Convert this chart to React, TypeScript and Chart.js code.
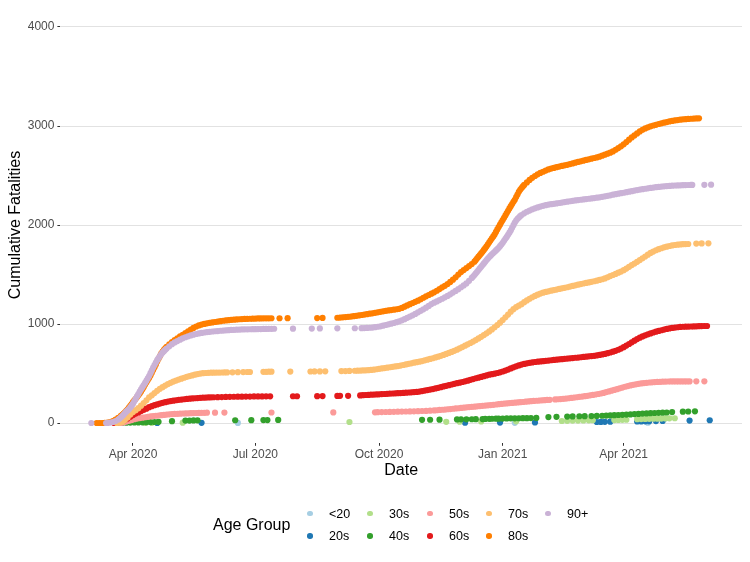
import React, { useEffect, useRef } from "react";
import { Chart, registerables } from "chart.js";

Chart.register(...registerables);

type Pt = [number, number];

// x values are days since 2020-03-01
const dateTicks = [31, 122, 214, 306, 396];
const dateLabels = ["Apr 2020", "Jul 2020", "Oct 2020", "Jan 2021", "Apr 2021"];
const valueTicks = [0, 1000, 2000, 3000, 4000];

const ageGroups = ["<20", "20s", "30s", "40s", "50s", "60s", "70s", "80s", "90+"];
const ageColors = ["#A6CEE3", "#1F78B4", "#B2DF8A", "#33A02C", "#FB9A99", "#E31A1C", "#FDBF6F", "#FF7F00", "#CAB2D6"];

const under20: Pt[] = [[109, 1], [315, 2], [414, 3]];

const age20s: Pt[] = [[49, 1], [82, 2], [278, 3], [304, 4], [330, 5], [376, 10], [379, 11], [382, 12], [386, 13], [406, 15], [409, 16], [412, 17], [415, 18], [420, 19], [425, 20], [445, 24], [460, 28]];

const age30s: Pt[] = [[40, 1], [45, 2], [68, 3], [192, 10], [264, 12], [274, 13], [290, 15], [316, 17], [350, 20], [354, 22], [358, 24], [362, 25], [366, 26], [370, 27], [373, 28], [389, 30], [392, 31], [395, 32], [398, 33], [406, 38], [409, 40], [412, 41], [415, 42], [418, 43], [421, 44], [424, 45], [427, 46], [430, 47], [434, 48]];

const age40s: Pt[] = [[20, 1], [23, 2], [26, 3], [29, 4], [32, 5], [35, 6], [38, 7], [41, 8], [44, 9], [47, 10], [50, 12], [60, 18], [70, 24], [73, 25], [76, 26], [79, 27], [107, 28], [119, 29], [128, 30], [131, 30], [139, 31], [246, 32], [252, 33], [259, 34], [272, 36], [275, 37], [279, 37], [283, 38], [286, 39], [291, 40], [293, 41], [296, 42], [298, 43], [301, 44], [303, 44], [306, 45], [309, 46], [312, 47], [315, 47], [318, 48], [321, 49], [324, 49], [327, 50], [331, 51], [340, 60], [346, 62], [354, 65], [358, 66], [363, 68], [367, 69], [372, 70], [376, 71], [380, 73], [383, 75], [386, 77], [389, 79], [392, 81], [395, 83], [398, 85], [401, 87], [404, 90], [407, 92], [410, 95], [413, 97], [416, 99], [419, 101], [422, 103], [425, 104], [428, 106], [432, 110], [440, 114], [444, 116], [449, 118]];

const age50s: Pt[] = [[22, 0], [24, 6], [26, 14], [28, 22], [30, 30], [32, 38], [34, 45], [36, 50], [38, 54], [40, 58], [42, 62], [44, 66], [46, 70], [48, 73], [50, 76], [52, 79], [54, 82], [56, 85], [58, 88], [60, 90], [62, 92], [64, 93], [66, 94], [68, 96], [70, 97], [72, 98], [74, 99], [76, 100], [78, 101], [80, 102], [82, 103], [84, 103], [86, 104], [92, 104], [99, 105], [134, 106], [180, 107], [211, 108], [213, 109], [216, 110], [219, 111], [222, 112], [225, 113], [228, 114], [231, 115], [234, 116], [237, 117], [240, 118], [243, 119], [246, 121], [249, 122], [252, 124], [255, 127], [257, 129], [259, 132], [261, 134], [263, 136], [265, 139], [267, 141], [269, 144], [271, 147], [273, 149], [275, 152], [277, 155], [279, 158], [281, 161], [283, 163], [285, 165], [287, 168], [289, 171], [291, 173], [293, 176], [295, 179], [297, 181], [299, 184], [301, 187], [303, 190], [305, 193], [307, 196], [309, 198], [311, 201], [313, 203], [315, 205], [317, 208], [319, 210], [321, 212], [323, 215], [325, 218], [327, 220], [329, 223], [331, 225], [333, 227], [335, 229], [337, 231], [339, 233], [341, 234], [345, 238], [347, 240], [349, 242], [351, 244], [353, 247], [355, 250], [357, 253], [359, 257], [361, 260], [363, 264], [365, 267], [367, 271], [369, 275], [371, 280], [373, 284], [375, 288], [377, 293], [379, 298], [381, 304], [383, 312], [385, 319], [387, 327], [389, 334], [391, 342], [393, 350], [395, 358], [397, 366], [399, 373], [401, 380], [403, 386], [405, 391], [407, 396], [409, 400], [411, 403], [413, 406], [415, 409], [417, 411], [419, 413], [421, 415], [423, 416], [425, 417], [427, 418], [429, 419], [431, 420], [433, 420], [435, 420], [437, 420], [439, 420], [441, 420], [443, 420], [445, 420], [450, 421], [456, 421]];

const age60s: Pt[] = [[17, 0], [19, 4], [21, 10], [23, 18], [25, 30], [27, 45], [29, 64], [31, 80], [33, 95], [35, 107], [37, 120], [39, 133], [41, 145], [43, 160], [45, 170], [47, 180], [49, 188], [51, 196], [53, 204], [55, 210], [57, 216], [59, 221], [61, 226], [63, 230], [65, 234], [67, 237], [69, 240], [71, 243], [73, 246], [75, 248], [77, 250], [79, 252], [81, 254], [83, 256], [85, 257], [87, 258], [89, 259], [91, 260], [94, 261], [97, 262], [100, 263], [103, 264], [106, 265], [109, 266], [112, 266], [115, 267], [118, 267], [121, 268], [124, 268], [127, 268], [130, 269], [133, 269], [150, 270], [153, 270], [168, 271], [172, 272], [183, 273], [185, 274], [191, 275], [200, 279], [202, 281], [204, 283], [206, 284], [208, 286], [210, 287], [212, 289], [214, 290], [216, 292], [218, 293], [220, 295], [222, 297], [224, 298], [226, 300], [228, 301], [230, 302], [232, 304], [234, 306], [236, 308], [238, 310], [240, 312], [242, 314], [244, 317], [246, 322], [248, 328], [250, 333], [252, 338], [254, 343], [256, 349], [258, 355], [260, 362], [262, 369], [264, 376], [266, 382], [268, 389], [270, 396], [272, 402], [274, 407], [276, 414], [278, 421], [280, 428], [282, 436], [284, 444], [286, 452], [288, 458], [290, 465], [292, 473], [294, 481], [296, 488], [298, 493], [300, 498], [302, 505], [304, 512], [306, 520], [308, 530], [310, 540], [312, 551], [314, 562], [316, 572], [318, 582], [320, 590], [322, 597], [324, 603], [326, 608], [328, 612], [330, 616], [332, 619], [334, 622], [336, 625], [338, 628], [340, 631], [342, 634], [344, 637], [346, 640], [348, 643], [350, 645], [352, 648], [354, 651], [356, 653], [358, 656], [360, 659], [362, 661], [364, 664], [366, 667], [368, 670], [370, 673], [372, 676], [374, 679], [376, 683], [378, 688], [380, 693], [382, 698], [384, 705], [386, 712], [388, 720], [390, 729], [392, 740], [394, 752], [396, 766], [398, 782], [400, 798], [402, 815], [404, 832], [406, 848], [408, 862], [410, 875], [412, 886], [414, 896], [416, 905], [418, 914], [420, 922], [422, 930], [424, 937], [426, 944], [428, 950], [430, 955], [432, 960], [434, 964], [436, 967], [438, 970], [440, 972], [442, 973], [444, 974], [446, 975], [448, 976], [450, 977], [452, 978], [454, 979], [456, 980], [458, 980]];

const age70s: Pt[] = [[19, 0], [21, 3], [23, 10], [25, 30], [27, 55], [29, 85], [31, 110], [33, 130], [35, 150], [37, 175], [39, 202], [41, 230], [43, 260], [45, 280], [47, 302], [49, 325], [51, 345], [53, 362], [55, 378], [57, 393], [59, 406], [61, 418], [63, 429], [65, 439], [67, 448], [69, 457], [71, 466], [73, 474], [75, 481], [77, 488], [79, 494], [81, 499], [83, 503], [85, 505], [87, 507], [89, 508], [91, 508], [93, 509], [95, 509], [97, 510], [99, 511], [101, 511], [105, 512], [109, 513], [113, 514], [116, 515], [118, 515], [128, 517], [130, 517], [132, 518], [134, 518], [148, 519], [163, 520], [166, 521], [170, 521], [174, 522], [186, 524], [189, 525], [192, 526], [196, 528], [198, 529], [200, 530], [202, 531], [204, 532], [206, 534], [208, 536], [210, 539], [212, 543], [214, 547], [216, 551], [218, 555], [220, 559], [222, 563], [224, 567], [226, 571], [228, 575], [230, 580], [232, 586], [234, 592], [236, 598], [238, 603], [240, 609], [242, 614], [244, 619], [246, 626], [248, 633], [250, 640], [252, 647], [254, 654], [256, 662], [258, 670], [260, 679], [262, 688], [264, 698], [266, 708], [268, 718], [270, 729], [272, 741], [274, 754], [276, 767], [278, 781], [280, 795], [282, 808], [284, 822], [286, 838], [288, 854], [290, 870], [292, 888], [294, 906], [296, 925], [298, 945], [300, 967], [302, 990], [304, 1013], [306, 1040], [308, 1068], [310, 1095], [312, 1125], [314, 1150], [316, 1170], [318, 1185], [320, 1200], [322, 1220], [324, 1238], [326, 1255], [328, 1270], [330, 1284], [332, 1296], [334, 1307], [336, 1316], [338, 1324], [340, 1330], [342, 1337], [344, 1343], [346, 1348], [348, 1354], [350, 1360], [352, 1365], [354, 1371], [356, 1378], [358, 1385], [360, 1391], [362, 1397], [364, 1403], [366, 1409], [368, 1415], [370, 1420], [372, 1426], [374, 1432], [376, 1438], [378, 1445], [380, 1452], [382, 1460], [384, 1472], [386, 1484], [388, 1495], [390, 1506], [392, 1518], [394, 1530], [396, 1544], [398, 1560], [400, 1578], [402, 1595], [404, 1611], [406, 1628], [408, 1646], [410, 1664], [412, 1682], [414, 1700], [416, 1718], [418, 1732], [420, 1745], [422, 1756], [424, 1765], [426, 1774], [428, 1781], [430, 1788], [432, 1794], [434, 1798], [436, 1801], [438, 1804], [440, 1806], [442, 1807], [444, 1808], [450, 1812], [454, 1814], [459, 1815]];

const age80s: Pt[] = [[4, 0], [6, 0], [8, 0], [10, 1], [12, 4], [14, 10], [16, 20], [18, 35], [20, 52], [22, 72], [23, 82], [24, 94], [25, 108], [26, 122], [27, 138], [28, 155], [29, 172], [30, 190], [31, 210], [32, 228], [33, 245], [34, 262], [35, 280], [36, 298], [37, 318], [38, 340], [39, 364], [40, 390], [41, 412], [42, 434], [43, 455], [44, 480], [45, 508], [46, 535], [47, 562], [48, 590], [49, 620], [50, 648], [51, 675], [52, 700], [53, 720], [54, 738], [55, 755], [56, 770], [58, 795], [60, 818], [62, 838], [64, 856], [66, 874], [68, 891], [70, 908], [72, 926], [74, 943], [76, 960], [78, 975], [80, 986], [82, 994], [84, 1001], [86, 1007], [88, 1012], [90, 1016], [92, 1020], [94, 1025], [96, 1029], [98, 1033], [100, 1036], [102, 1039], [104, 1042], [106, 1044], [108, 1046], [110, 1048], [112, 1050], [114, 1051], [116, 1052], [118, 1053], [120, 1054], [122, 1055], [124, 1056], [126, 1056], [128, 1057], [130, 1057], [132, 1057], [134, 1058], [140, 1058], [146, 1059], [168, 1060], [172, 1061], [183, 1063], [185, 1065], [187, 1067], [189, 1070], [191, 1072], [193, 1075], [195, 1079], [197, 1083], [199, 1087], [201, 1091], [203, 1095], [205, 1099], [207, 1104], [209, 1108], [211, 1113], [213, 1118], [215, 1123], [217, 1128], [219, 1133], [221, 1137], [223, 1141], [225, 1145], [227, 1149], [229, 1153], [231, 1162], [233, 1175], [235, 1188], [237, 1200], [239, 1212], [241, 1224], [243, 1236], [245, 1250], [247, 1265], [249, 1280], [251, 1293], [253, 1306], [255, 1320], [257, 1336], [259, 1353], [261, 1370], [263, 1386], [265, 1404], [267, 1425], [269, 1448], [271, 1472], [273, 1500], [275, 1524], [277, 1545], [279, 1565], [281, 1585], [283, 1605], [285, 1630], [286, 1646], [287, 1663], [288, 1680], [289, 1697], [290, 1713], [291, 1730], [292, 1748], [293, 1766], [294, 1785], [295, 1805], [296, 1825], [297, 1845], [298, 1865], [299, 1885], [300, 1905], [301, 1930], [302, 1955], [303, 1980], [304, 2003], [305, 2027], [306, 2050], [307, 2073], [308, 2097], [309, 2120], [310, 2143], [311, 2167], [312, 2190], [313, 2212], [314, 2234], [315, 2255], [316, 2282], [317, 2308], [318, 2335], [319, 2355], [320, 2373], [321, 2390], [322, 2405], [324, 2430], [326, 2455], [328, 2477], [330, 2495], [332, 2512], [334, 2526], [336, 2538], [338, 2550], [340, 2561], [342, 2570], [344, 2577], [346, 2584], [348, 2590], [350, 2597], [352, 2603], [354, 2608], [356, 2615], [358, 2622], [360, 2630], [362, 2637], [364, 2643], [366, 2650], [368, 2657], [370, 2663], [372, 2670], [374, 2677], [376, 2683], [378, 2690], [380, 2700], [382, 2710], [384, 2720], [386, 2731], [388, 2743], [390, 2760], [392, 2777], [394, 2795], [396, 2815], [398, 2838], [400, 2862], [402, 2885], [404, 2905], [406, 2925], [408, 2945], [410, 2962], [412, 2976], [414, 2987], [416, 2997], [418, 3005], [420, 3012], [422, 3020], [424, 3027], [426, 3034], [428, 3040], [430, 3046], [432, 3051], [434, 3056], [436, 3060], [438, 3064], [440, 3067], [442, 3069], [444, 3071], [446, 3073], [448, 3075], [450, 3077], [452, 3078]];

const age90plus: Pt[] = [[0, 0], [11, 0], [12, 1], [14, 4], [16, 10], [18, 20], [20, 35], [21, 45], [22, 58], [23, 70], [24, 84], [25, 100], [26, 114], [27, 127], [28, 140], [29, 157], [30, 175], [31, 195], [32, 220], [33, 245], [34, 270], [35, 293], [36, 317], [37, 340], [38, 362], [39, 383], [40, 405], [41, 428], [42, 451], [43, 475], [44, 503], [45, 531], [46, 560], [47, 586], [48, 611], [49, 635], [50, 656], [51, 676], [52, 695], [53, 711], [54, 726], [55, 740], [56, 752], [58, 775], [60, 796], [62, 814], [64, 828], [66, 842], [68, 855], [70, 866], [72, 876], [74, 885], [76, 892], [78, 899], [80, 905], [82, 910], [84, 914], [86, 918], [88, 921], [90, 924], [92, 927], [94, 929], [96, 932], [98, 934], [100, 936], [102, 938], [104, 940], [106, 941], [108, 943], [110, 944], [112, 945], [114, 946], [116, 946], [118, 947], [120, 948], [122, 948], [124, 949], [126, 949], [128, 950], [130, 950], [132, 951], [134, 951], [136, 952], [150, 953], [164, 954], [170, 955], [183, 956], [196, 957], [201, 958], [203, 959], [205, 960], [207, 962], [209, 964], [211, 968], [213, 972], [215, 977], [217, 983], [219, 990], [221, 997], [223, 1003], [225, 1010], [227, 1018], [229, 1027], [231, 1037], [233, 1049], [235, 1062], [237, 1075], [239, 1088], [241, 1102], [243, 1118], [245, 1133], [247, 1148], [249, 1165], [251, 1183], [253, 1201], [255, 1215], [257, 1228], [259, 1242], [261, 1255], [263, 1269], [265, 1284], [267, 1300], [269, 1317], [271, 1334], [273, 1352], [275, 1371], [277, 1390], [279, 1410], [281, 1436], [283, 1465], [284, 1480], [285, 1495], [286, 1512], [287, 1528], [288, 1545], [289, 1562], [290, 1578], [291, 1595], [292, 1612], [293, 1629], [294, 1646], [295, 1661], [296, 1676], [297, 1690], [298, 1704], [299, 1717], [300, 1730], [301, 1743], [302, 1756], [303, 1770], [304, 1786], [305, 1803], [306, 1820], [307, 1840], [308, 1860], [309, 1880], [310, 1901], [311, 1922], [312, 1945], [313, 1972], [314, 1998], [315, 2025], [316, 2045], [317, 2062], [318, 2075], [319, 2089], [320, 2101], [322, 2118], [324, 2134], [326, 2146], [328, 2158], [330, 2168], [332, 2178], [334, 2186], [336, 2194], [338, 2200], [340, 2206], [342, 2210], [344, 2214], [346, 2218], [348, 2222], [350, 2227], [352, 2232], [354, 2236], [356, 2240], [358, 2244], [360, 2248], [362, 2252], [364, 2255], [366, 2258], [368, 2262], [370, 2265], [372, 2268], [374, 2272], [376, 2276], [378, 2280], [380, 2285], [382, 2290], [384, 2295], [386, 2300], [388, 2306], [390, 2311], [392, 2316], [394, 2321], [396, 2326], [398, 2332], [400, 2337], [402, 2342], [404, 2348], [406, 2353], [408, 2358], [410, 2362], [412, 2366], [414, 2370], [416, 2374], [418, 2378], [420, 2382], [422, 2385], [424, 2388], [426, 2391], [428, 2393], [430, 2395], [432, 2397], [434, 2399], [436, 2400], [438, 2401], [440, 2402], [442, 2403], [444, 2404], [446, 2405], [447, 2405], [456, 2406], [461, 2407]];

const seriesData: Pt[][] = [under20, age20s, age30s, age40s, age50s, age60s, age70s, age80s, age90plus];

const FONT = '"Liberation Sans", Arial, Helvetica, sans-serif';

export default function App() {
  const canvasRef = useRef<HTMLCanvasElement>(null);

  useEffect(() => {
    const canvas = canvasRef.current;
    if (!canvas) return;
    const chart = new Chart(canvas, {
      type: "scatter",
      data: {
        datasets: ageGroups.map((g, i) => ({
          label: g,
          data: seriesData[i].map(([x, y]) => ({ x, y })),
          backgroundColor: ageColors[i],
          borderColor: ageColors[i],
          pointRadius: 3.1,
          pointHoverRadius: 3.1,
          pointBorderWidth: 0,
          order: ageGroups.length - 1 - i,
        })),
      },
      options: {
        responsive: false,
        animation: false,
        events: [],
        layout: { padding: { top: 7.2, right: 8, bottom: 0, left: 0 } },
        plugins: { legend: { display: false }, tooltip: { enabled: false } },
        scales: {
          x: {
            type: "linear",
            min: -23,
            max: 484,
            afterBuildTicks: (s: any) => {
              s.ticks = dateTicks.map((v) => ({ value: v }));
            },
            afterFit: (s: any) => {
              s.height = 119.2;
              s.paddingLeft = 0;
              s.paddingRight = 0;
            },
            ticks: {
              callback: (v: any) => {
                const k = dateTicks.indexOf(Number(v));
                return k >= 0 ? dateLabels[k] : "";
              },
              color: "#4d4d4d",
              font: { family: FONT, size: 12 },
              padding: 2,
              maxRotation: 0,
              autoSkip: false,
            },
            grid: {
              display: true,
              drawOnChartArea: false,
              drawTicks: true,
              tickLength: 3,
              tickColor: "#333333",
              tickWidth: 1,
            },
            border: { display: false },
            title: {
              display: true,
              text: "Date",
              color: "#000000",
              font: { family: FONT, size: 16 },
              padding: { top: 0, bottom: 82 },
            },
          },
          y: {
            type: "linear",
            min: -200,
            max: 4200,
            afterBuildTicks: (s: any) => {
              s.ticks = valueTicks.map((v) => ({ value: v }));
            },
            afterFit: (s: any) => {
              s.width = 60.4;
              s.paddingTop = 0;
              s.paddingBottom = 0;
            },
            ticks: {
              callback: (v: any) => String(v),
              color: "#4d4d4d",
              font: { family: FONT, size: 12 },
              padding: 3,
            },
            grid: {
              display: true,
              color: "#e2e2e2",
              lineWidth: 1,
              drawTicks: true,
              tickLength: 3,
              tickColor: "#333333",
              tickWidth: 1,
            },
            border: { display: false },
            title: {
              display: true,
              text: "Cumulative Fatalities",
              color: "#000000",
              font: { family: FONT, size: 16 },
              padding: { top: 6, bottom: 0 },
            },
          },
        },
      },
    } as any);
    return () => chart.destroy();
  }, []);

  const legendCols = [310, 370, 430, 489, 548];
  const legendRows = [513.5, 536];

  return (
    <div style={{ position: "absolute", left: 0, top: 0, width: 750, height: 562, background: "#ffffff", fontFamily: FONT }}>
      <canvas ref={canvasRef} width={750} height={562} style={{ position: "absolute", left: 0, top: 0, width: 750, height: 562 }} />
      <div style={{ position: "absolute", left: 213, top: 515, fontSize: 16, lineHeight: "20px", color: "#000", whiteSpace: "nowrap" }}>Age Group</div>
      {ageGroups.map((g, i) => {
        const cx = legendCols[Math.floor(i / 2)];
        const cy = legendRows[i % 2];
        return (
          <React.Fragment key={g}>
            <div style={{ position: "absolute", left: cx - 2.75, top: cy - 2.75, width: 5.5, height: 5.5, borderRadius: "50%", background: ageColors[i] }} />
            <div style={{ position: "absolute", left: cx + 19, top: cy - 8, fontSize: 12.5, lineHeight: "16px", color: "#000", whiteSpace: "nowrap" }}>{g}</div>
          </React.Fragment>
        );
      })}
    </div>
  );
}
